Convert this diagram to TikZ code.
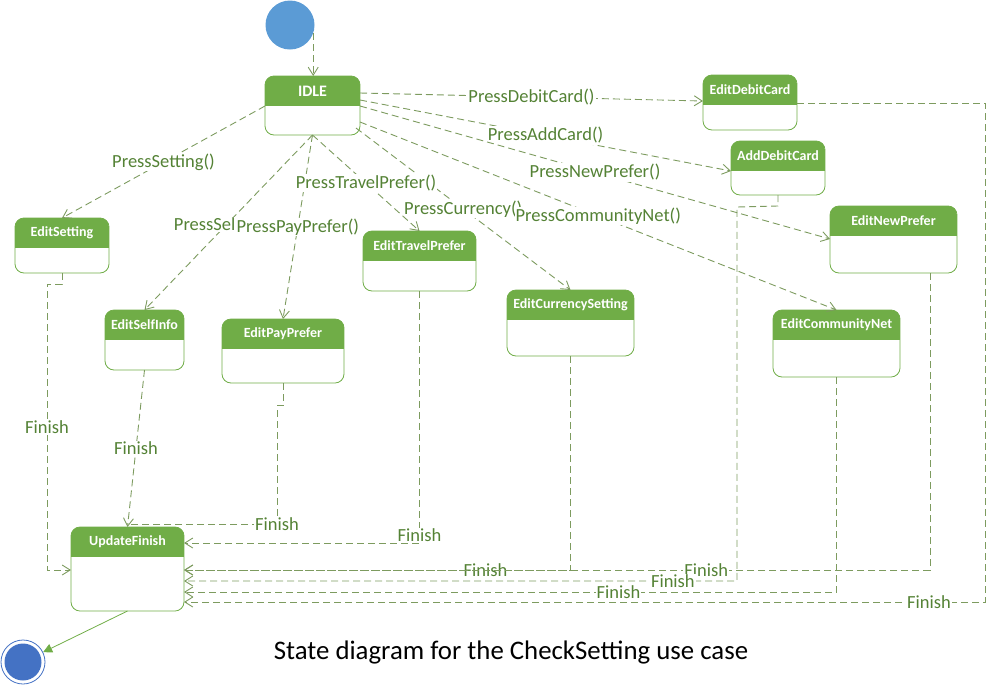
\documentclass[tikz,border=0pt]{standalone}
\usepackage{fontspec}
\setmainfont{Carlito}
\usetikzlibrary{arrows.meta}
\definecolor{grn}{RGB}{112,173,71}
\definecolor{lblc}{RGB}{84,130,53}
\definecolor{linec}{RGB}{125,155,95}
\definecolor{iblue}{RGB}{91,155,213}
\definecolor{fblue}{RGB}{68,114,196}
\newcommand\stbox[6]{%
  \node[st, minimum width=#4pt, minimum height=#5pt] (#1) at (#2,#3) {};
  \node[ttl] (#1t) at ([yshift=-15pt]#1.north) {#6};}
\begin{document}
\begin{tikzpicture}[x=1pt,y=-1pt,
  st/.style={draw=grn, line width=0.8pt, rounded corners=9pt, fill=white, anchor=north west,
    inner sep=0pt, outer sep=0pt,
    path picture={\fill[grn, sharp corners] (path picture bounding box.north west) rectangle ([yshift=-30pt]path picture bounding box.north east);}},
  ttl/.style={text=white, font=\fontsize{14}{16}\selectfont\bfseries, inner sep=0pt},
  tr/.style={draw=linec, line width=0.9pt, dash pattern=on 7pt off 4pt, -{Straight Barb[length=8pt,width=10pt]}},
  ln/.style={draw=linec, line width=0.9pt, dash pattern=on 7pt off 4pt},
  lbl/.style={fill=white, text=lblc, font=\fontsize{18.5}{20}\selectfont, inner sep=1pt},
]
\useasboundingbox (0,0) rectangle (987,686);

% states
\node[circle, fill=iblue, minimum size=49pt, inner sep=0pt] (init) at (290,25) {};
\node[st, minimum width=95pt, minimum height=59pt] (idle) at (265,76) {};
\node[ttl, font=\fontsize{16}{18}\selectfont\bfseries] (idlet) at ([yshift=-15pt]idle.north) {IDLE};
\stbox{debit}{703}{75}{94}{55}{EditDebitCard}
\stbox{add}{731}{141}{94}{54}{AddDebitCard}
\stbox{newp}{830}{206}{127}{67}{EditNewPrefer}
\stbox{sett}{15}{218}{94}{55}{EditSetting}
\stbox{self}{105}{310}{79}{60}{EditSelfInfo}
\stbox{pay}{222}{319}{122}{64}{EditPayPrefer}
\stbox{trav}{363}{231}{113}{60}{EditTravelPrefer}
\stbox{curr}{507}{290}{127}{66}{EditCurrencySetting}
\stbox{comm}{773}{310}{127}{67}{EditCommunityNet}
\stbox{upd}{71}{527}{113}{84}{UpdateFinish}
\node[circle, draw=fblue, line width=0.8pt, minimum size=44pt, inner sep=0pt,
  path picture={\fill[fblue] (path picture bounding box.center) circle (18.5pt);}] (fin) at (23,662) {};

% transitions from IDLE
\draw[tr] (init.-20) -- (init.-20 |- idle.north);
\draw[tr] (idle.east |- 0,93) -- node[lbl]{PressDebitCard()} (debit.west |- 0,101);
\draw[tr] (idle.east |- 0,100) -- node[lbl]{PressAddCard()} (add.west |- 0,171);
\draw[tr] (idle.east |- 0,106) -- node[lbl]{PressNewPrefer()} (newp.west |- 0,239);
\draw[tr] ([shift={(-4,-7)}]idle.south east) -- node[lbl]{PressCurrency()} (curr.north);
\draw[tr] (idle.east |- 0,122) -- node[lbl]{PressCommunityNet()} (comm.north);
\draw[tr] (idle.west |- 0,106) -- node[lbl]{PressSetting()} (sett.north);
\draw[tr] (idle.south) -- node[lbl, anchor=west, xshift=-56pt, yshift=-2pt]{PressSel} (self.north);
\draw[tr] (idle.south) -- node[lbl]{PressPayPrefer()} (pay.north);
\draw[tr] (idle.south) -- node[lbl]{PressTravelPrefer()} (trav.north);

% finish transitions
\draw[tr] (sett.south) -- ++(0,11) -- (47,284) -- node[lbl]{Finish} (47,570) -- (upd.west |- 0,570);
\draw[tr] (self.south) -- node[lbl]{Finish} (upd.north);
\draw[ln] (pay.south) -- (283,405) -- (277,405) -- (277,524) node[lbl]{Finish} -- ([yshift=3pt]upd.north);
\draw[tr] (trav.south) -- (trav.south |- 0,543) node[lbl, yshift=8pt]{Finish} -- (upd.east |- 0,543);
\draw[tr] (curr.south) -- (curr.south |- 0,570) -- node[lbl,pos=0.22]{Finish} (upd.east |- 0,570);
\draw[tr] (newp.south -| 930,0) -- (930,570) -- node[lbl,pos=0.30]{Finish} (upd.east |- 0,570);
\draw[tr] (add.south) -- ++(0,11) -- (737,207) -- (737,581) -- node[lbl,pos=0.116]{Finish} (upd.east |- 0,581);
\draw[tr] (comm.south) -- (comm.south |- 0,592) -- node[lbl,pos=0.334]{Finish} (upd.east |- 0,592);
\draw[tr] (debit.east |- 0,103) -- (985,103) -- (985,602) -- node[lbl,pos=0.07]{Finish} (upd.east |- 0,602);

% final
\draw[grn, line width=0.8pt, -{Triangle[length=9pt,width=9pt]}] (upd.south) -- (fin);

\node[font=\fontsize{26.8}{30}\selectfont, text=black, inner sep=0pt] (cap) at (511,652) {State diagram for the CheckSetting use case};
\end{tikzpicture}
\end{document}
